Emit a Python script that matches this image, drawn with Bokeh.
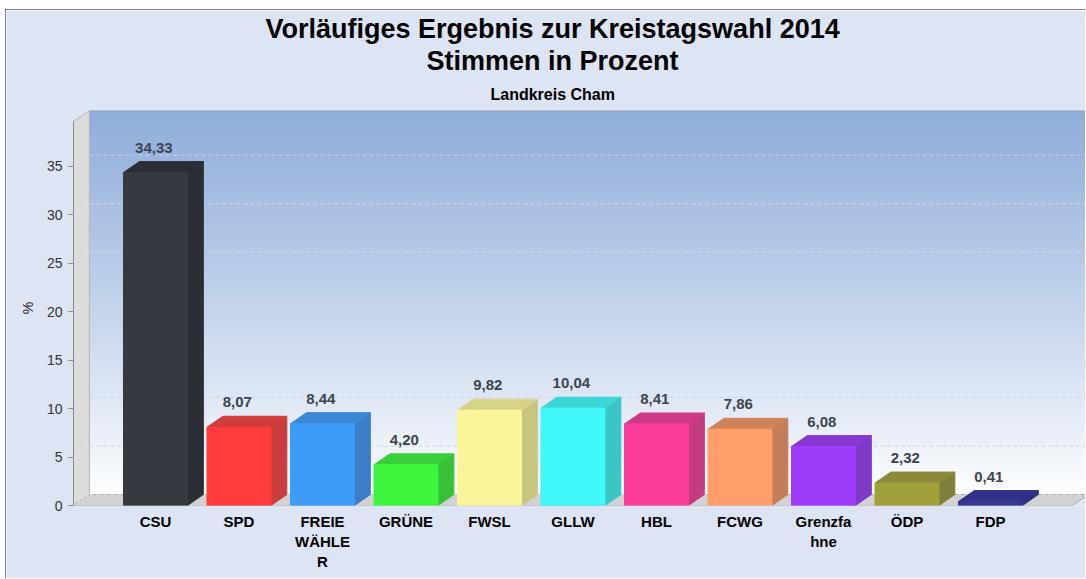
from bokeh.plotting import figure
from bokeh.models import FixedTicker, Title, Range1d
from bokeh.core.properties import value
from bokeh.embed import file_html
from bokeh.resources import INLINE

# ---------------- data ----------------
parties = ["CSU", "SPD", "FREIE WÄHLER", "GRÜNE", "FWSL", "GLLW", "HBL", "FCWG",
           "Grenzfahne", "ÖDP", "FDP"]
tick_labels = ["CSU", "SPD", "FREIE\nWÄHLE\nR", "GRÜNE", "FWSL", "GLLW", "HBL", "FCWG",
               "Grenzfa\nhne", "ÖDP", "FDP"]
percent = [34.33, 8.07, 8.44, 4.20, 9.82, 10.04, 8.41, 7.86, 6.08, 2.32, 0.41]
y_ticks = [0, 5, 10, 15, 20, 25, 30, 35]

# ---------------- styles ----------------
front_colors = ["#363a40", "#ff3b3b", "#3d9cf6", "#3ef53e", "#f9f598", "#40f8f8",
                "#fb3d9c", "#ff9e6b", "#9e3df9", "#a1a13b", "#373795"]
side_colors = ["#2b2e34", "#c83d3d", "#3b7dc6", "#38c038", "#c9c580", "#3bc5c5",
               "#c43c80", "#c57c5a", "#7e39c6", "#80803a", "#2e2e80"]
top_colors = ["#292d35", "#d03b3b", "#3a87d6", "#39cf39", "#d7d388", "#3cd6d6",
              "#cf3a88", "#d0825a", "#8737d2", "#8a8a3a", "#31318a"]

FONT = "Liberation Sans"
n = len(percent)
xs = list(range(n))

# geometry (data units)
dx = 0.19          # depth offset in x
dy = 1.13          # depth offset in y
bw = 0.766         # bar width
x_start = -0.982
x_end = 11.15
floor_end = 10.98
wall_top = 39.6
y_end = wall_top + dy

p = figure(width=1080, height=569, output_backend="svg", toolbar_location=None,
           x_range=Range1d(x_start, x_end), y_range=Range1d(0, y_end),
           min_border_left=67, min_border_right=0, min_border_top=100,
           min_border_bottom=74,
           title="Vorläufiges Ergebnis zur Kreistagswahl 2014")
p.styles = {"margin-left": "5px", "margin-top": "9px",
            "border-left": "1px solid #7f7f7f", "border-top": "1px solid #7f7f7f"}
p.background_fill_color = "#dde4f3"
p.border_fill_color = "#dde4f3"
p.outline_line_color = None
p.grid.visible = False

# titles (first added = closest to the frame)
p.title.text_font = FONT
p.title.text_font_size = "27px"
p.title.text_font_style = "bold"
p.title.text_color = "#000000"
p.title.align = "left"
p.title.standoff = 0
p.title.offset = 192
t_sub = Title(text="Landkreis Cham", text_font=FONT, text_font_size="16px",
              text_font_style="bold", align="left", text_color="#000000",
              standoff=15, offset=417)
t2 = Title(text="Stimmen in Prozent", text_font=FONT, text_font_size="27px",
           text_font_style="bold", align="left", text_color="#000000",
           standoff=1, offset=353)
p.add_layout(t_sub, "above")
p.add_layout(t2, "above")

# ---- back wall gradient ----
N = 60
top_rgb = (143, 172, 218)
bot_rgb = (255, 255, 255)
h = wall_top / N
bl, br, bb, bt, bc = [], [], [], [], []
for k in range(N):
    f = (k + 0.5) / N
    c = tuple(int(round(bot_rgb[j] + (top_rgb[j] - bot_rgb[j]) * f ** 0.9)) for j in range(3))
    bl.append(x_start + dx)
    br.append(x_end + 1)
    bb.append(dy + k * h)
    bt.append(min(dy + (k + 1.6) * h, y_end))
    bc.append("#%02x%02x%02x" % c)
p.quad(left=bl, right=br, bottom=bb, top=bt, fill_color=bc, line_color=None)
p.segment(x0=[x_start + dx], y0=[y_end], x1=[x_end + 1], y1=[y_end],
          line_color="#97a3b8", line_width=2)

# ---- left wall ----
p.patch(x=[x_start, x_start, x_start + dx, x_start + dx],
        y=[0, wall_top, y_end, dy], fill_color="#dcdcdc", line_color="#b4b4b4")

# ---- floor ----
p.patch(x=[x_start, floor_end, floor_end + dx, x_start + dx],
        y=[0, 0, dy, dy], fill_color="#d2d2d2", line_color="#a8a8a8")

# ---- grid lines on walls ----
gx0 = [x_start + dx] * len(y_ticks)
gx1 = [x_end + 1] * len(y_ticks)
gy = [t + dy for t in y_ticks]
p.segment(x0=gx0, y0=gy, x1=gx1, y1=gy, line_color="#ccd6e8", line_dash="4 3",
          line_width=1)
p.segment(x0=[x_start] * len(y_ticks), y0=y_ticks, x1=gx0, y1=gy,
          line_color="#e8e8e8", line_dash="3 2", line_width=1)

# ---- 3D bars ----
side_x, side_y, top_x, top_y = [], [], [], []
for i, v in zip(xs, percent):
    r = i + bw / 2
    l = i - bw / 2
    side_x.append([r, r + dx, r + dx, r])
    side_y.append([0, dy, v + dy, v])
    top_x.append([l, r, r + dx, l + dx])
    top_y.append([v, v, v + dy, v + dy])
p.patches(xs=side_x, ys=side_y, fill_color=side_colors, line_color=side_colors)
p.patches(xs=top_x, ys=top_y, fill_color=top_colors, line_color=top_colors)
p.quad(left=[i - bw / 2 for i in xs], right=[i + bw / 2 for i in xs],
       bottom=0, top=percent, fill_color=front_colors, line_color=front_colors)

# value labels
p.text(x=[i - 0.02 for i in xs], y=[v + dy for v in percent],
       text=[f"{v:.2f}".replace(".", ",") for v in percent],
       text_font=value(FONT), text_font_size="15px", text_font_style="bold",
       text_color="#3d4450", text_align="center", text_baseline="bottom",
       y_offset=-9)

# ---- axes ----
p.yaxis.ticker = FixedTicker(ticks=y_ticks)
p.yaxis.bounds = (0, wall_top)
p.yaxis.axis_line_color = "#8a8a8a"
p.yaxis.major_tick_line_color = "#8a8a8a"
p.yaxis.major_tick_out = 5
p.yaxis.major_tick_in = 0
p.yaxis.minor_tick_line_color = None
p.yaxis.major_label_text_font = FONT
p.yaxis.major_label_text_font_size = "14px"
p.yaxis.major_label_text_color = "#333333"
p.yaxis.major_label_standoff = 6
p.yaxis.axis_label = "%"
p.yaxis.axis_label_text_font = FONT
p.yaxis.axis_label_text_font_size = "14px"
p.yaxis.axis_label_text_font_style = "normal"
p.yaxis.axis_label_text_color = "#222222"
p.yaxis.axis_label_standoff = 8

p.xaxis.ticker = FixedTicker(ticks=xs)
p.xaxis.major_label_overrides = {i: lab for i, lab in zip(xs, tick_labels)}
p.xaxis.axis_line_color = None
p.xaxis.major_tick_line_color = None
p.xaxis.minor_tick_line_color = None
p.xaxis.major_label_text_font = FONT
p.xaxis.major_label_text_font_size = "15px"
p.xaxis.major_label_text_font_style = "bold"
p.xaxis.major_label_text_color = "#000000"
p.xaxis.major_label_standoff = 1

open("out.html", "w").write(file_html(p, INLINE))
